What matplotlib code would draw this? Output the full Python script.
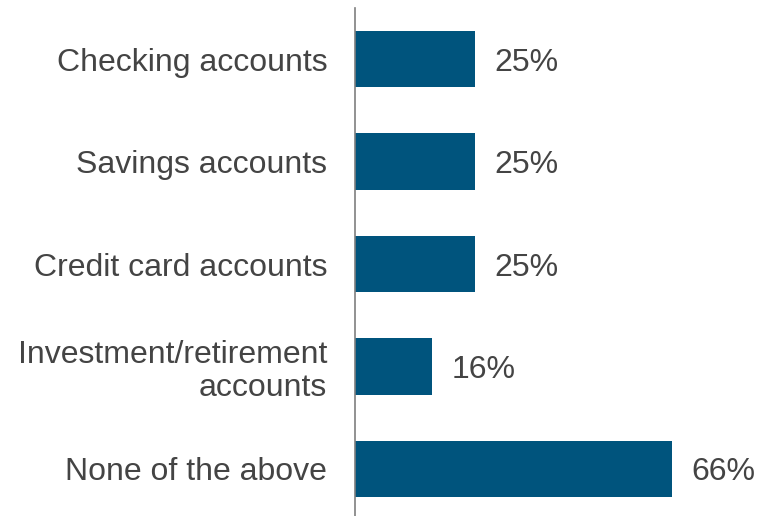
import matplotlib.pyplot as plt

categories = ["Checking accounts", "Savings accounts", "Credit card accounts",
              "Investment/retirement\naccounts", "None of the above"]
values = [25, 25, 25, 16, 66]

bar_color = "#00547D"
text_color = "#444444"

plt.rcParams['font.family'] = ['Liberation Sans', 'DejaVu Sans']

fig = plt.figure(figsize=(7.71, 5.16), dpi=100)
ax = fig.add_axes([0.4605, 0.0, 0.5395, 0.9845])

pos = list(range(len(categories)))
ax.barh(pos, values, height=0.55, color=bar_color)

for p, v in zip(pos, values):
    ax.annotate(f"{v}%", (v, p), xytext=(14, 0), textcoords="offset points",
                va="center_baseline", ha="left", fontsize=23, color=text_color)

ax.set_yticks(pos)
ax.set_yticklabels(categories, fontsize=23, color=text_color, linespacing=1.12)
for lbl in ax.get_yticklabels():
    lbl.set_verticalalignment("center_baseline")
ax.tick_params(axis="y", length=0, pad=20)
ax.set_xticks([])
ax.set_xlim(0, 86.6)
ax.set_ylim(4.46, -0.5)

for side in ["top", "right", "bottom"]:
    ax.spines[side].set_visible(False)
ax.spines["left"].set_color("#7f7f7f")
ax.spines["left"].set_linewidth(1.2)

fig.savefig("out.png", dpi=100)
